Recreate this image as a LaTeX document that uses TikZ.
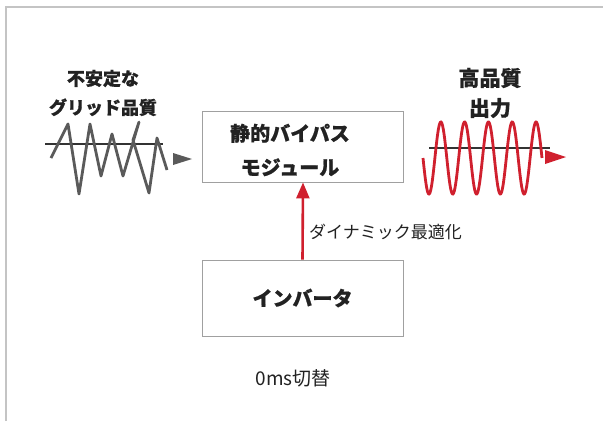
\documentclass[tikz,border=0pt]{standalone}
\usepackage{fontspec}
\usetikzlibrary{arrows.meta}
\newfontfamily\jp[BoldFeatures={FakeBold=0.7}]{Noto Sans CJK JP}
\definecolor{sigred}{HTML}{D0202E}
\definecolor{wavegray}{HTML}{5A5A5A}
\definecolor{txt}{HTML}{222222}
\definecolor{boxline}{HTML}{A0A0A0}
\definecolor{frameline}{HTML}{C4C4C4}
\tikzset{
  modbox/.style={draw=boxline, line width=0.9pt, fill=white, minimum width=201pt, anchor=center, inner sep=0pt},
  boldlbl/.style={font=\jp\bfseries\fontsize{20}{34}\selectfont, text=txt, align=center, inner sep=0pt},
  siglbl/.style={font=\jp\bfseries\fontsize{18}{29}\selectfont, text=txt, align=center, inner sep=0pt},
  siglblr/.style={font=\jp\bfseries\fontsize{21}{30}\selectfont, text=txt, align=center, inner sep=0pt},
  plainlbl/.style={font=\jp\fontsize{17}{20}\selectfont, text=txt, inner sep=0pt},
  axisline/.style={draw=black!80, line width=1.2pt},
}
\begin{document}
\begin{tikzpicture}[x=1pt,y=-1pt]
\useasboundingbox (0,0) rectangle (603,421);
\fill[white] (0,0) rectangle (603,421);
% frame
\draw[frameline, line width=1.2pt] (6,421) -- (6,7) -- (603,7);

% boxes
\node[modbox, minimum height=71pt] (bypass) at (303,146.5) {};
\node[boldlbl, anchor=center] (bypasstxt) at (290,150) {静的バイパス\\モジュール};
\node[modbox, minimum height=76pt, boldlbl] (inv) at (302.5,298) {インバータ};

% red vertical arrow
\draw[sigred, line width=2.6pt, -{Triangle[length=16pt,width=13pt]}] (inv.north) -- (bypass.south);
\node[plainlbl, anchor=west] (dyn) at (309,232) {ダイナミック最適化};
\node[plainlbl, font=\jp\fontsize{19}{22}\selectfont] (zero) at (293,378) {0ms切替};

% left signal
\node[siglbl] (unstable) at (103,93) {不安定な\\グリッド品質};
\coordinate (la) at (45,144);
\coordinate (lb) at (163,144);
\draw[axisline] (la) -- (lb);
\draw[wavegray, line width=2.8pt, line join=round] (51,158) -- (68,124) -- (79,194) -- (90,124) -- (101,176) -- (112,134) -- (123,176) -- (139,122) -- (133,140) -- (149,193) -- (157,138) -- (167,170);
\coordinate (ltip) at (192,159);
\fill[wavegray] (ltip) -- (173,153) -- (173,165) -- cycle;

% right signal
\node[siglblr] (hq) at (490,93) {高品質\\出力};
\coordinate (ra) at (429,148);
\coordinate (rb) at (550,148);
\draw[axisline] (ra) -- (rb);
\draw[sigred, line width=2.8pt] plot[domain=0:119, samples=240, smooth] ({423+\x}, {158+36*sin(\x/23.8*360)});
\coordinate (rtip) at (566,157);
\fill[sigred] (rtip) -- (545,150) -- (545,164) -- cycle;
\end{tikzpicture}
\end{document}
